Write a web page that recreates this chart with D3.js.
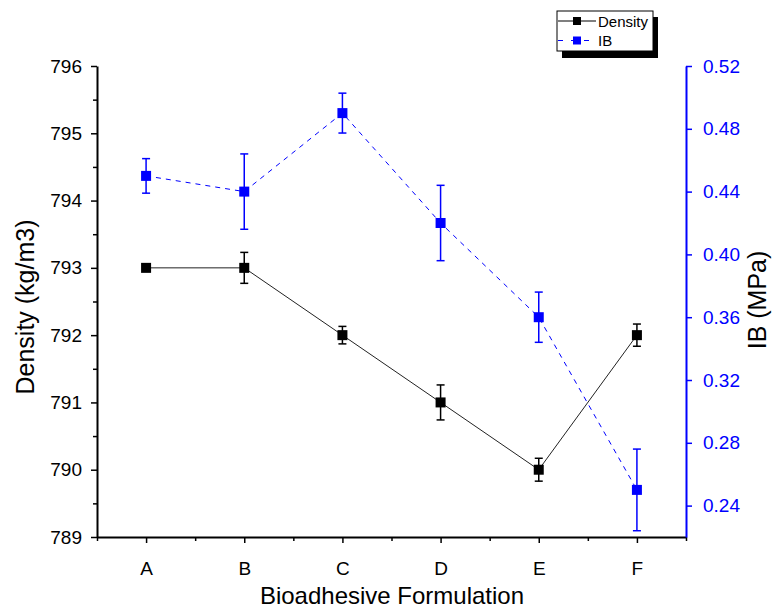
<!DOCTYPE html>
<html><head><meta charset="utf-8">
<script src="https://cdn.jsdelivr.net/npm/d3@7"></script>
<style>body{margin:0;background:#fff;} svg{display:block;font-family:"Liberation Sans",Arial,sans-serif;}</style>
</head><body>
<svg id="c" width="773" height="612"></svg>
<script>
const categories = ["A","B","C","D","E","F"];
const density = [793, 793, 792, 791, 790, 792];
const densityErr = [0.0, 0.23, 0.13, 0.26, 0.17, 0.165];
const ib = [0.45, 0.44, 0.49, 0.42, 0.36, 0.25];
const ibErr = [0.011, 0.024, 0.0127, 0.024, 0.016, 0.026];
const leftTicks = [789, 790, 791, 792, 793, 794, 795, 796];
const rightTicks = [0.24, 0.28, 0.32, 0.36, 0.40, 0.44, 0.48, 0.52];

const svg = d3.select("#c");
const L = 97, R = 686, T = 66, B = 537;
const blue = "#0000ff";
const FONT = "Liberation Sans, Arial, sans-serif";

const x = d3.scaleLinear().domain([0.5, 6.5]).range([L, R]);
const yL = d3.scaleLinear().domain([789, 796]).range([B, T]);
const yR = d3.scaleLinear().domain([0.22, 0.52]).range([B, T]);

// X axis
const xMinor = d3.range(0.5, 7, 0.5).filter(v => v % 1 !== 0);
svg.append("g").attr("transform", `translate(0,${B})`)
  .call(d3.axisBottom(x).tickValues(xMinor).tickSize(4).tickFormat(""))
  .call(g => g.select(".domain").remove())
  .selectAll("line").attr("stroke", "#000").attr("stroke-width", 1.5);
const gx = svg.append("g").attr("transform", `translate(0,${B})`)
  .call(d3.axisBottom(x).tickValues([1,2,3,4,5,6]).tickSize(6).tickSizeOuter(0)
    .tickFormat((d, i) => categories[i]));
gx.select(".domain").attr("stroke", "#000").attr("stroke-width", 2);
gx.selectAll("line").attr("stroke", "#000").attr("stroke-width", 1.5);
gx.selectAll("text").attr("font-size", 19).attr("fill", "#000").attr("y", 0).attr("dy", 0)
  .attr("transform", "translate(0,38)").attr("font-family", FONT);

// Left axis
const lMinor = d3.range(789.5, 796, 1);
svg.append("g").attr("transform", `translate(${L},0)`)
  .call(d3.axisLeft(yL).tickValues(lMinor).tickSize(4).tickFormat(""))
  .call(g => g.select(".domain").remove())
  .selectAll("line").attr("stroke", "#000").attr("stroke-width", 1.5);
const gl = svg.append("g").attr("transform", `translate(${L},0)`)
  .call(d3.axisLeft(yL).tickValues(leftTicks).tickSize(6).tickSizeOuter(0).tickFormat(d3.format("d")));
gl.select(".domain").attr("stroke", "#000").attr("stroke-width", 2);
gl.selectAll("line").attr("stroke", "#000").attr("stroke-width", 1.5);
gl.selectAll("text").attr("font-size", 19).attr("fill", "#000").attr("x", -15)
  .attr("font-family", FONT);

// Right axis
const gr = svg.append("g").attr("transform", `translate(${R},0)`)
  .call(d3.axisRight(yR).tickValues(rightTicks).tickSize(6).tickSizeOuter(0).tickFormat(d3.format(".2f")));
gr.select(".domain").attr("stroke", blue).attr("stroke-width", 2);
gr.selectAll("line").attr("stroke", blue).attr("stroke-width", 1.5);
gr.selectAll("text").attr("font-size", 19).attr("fill", blue).attr("x", 17)
  .attr("font-family", FONT);

// Axis titles
svg.append("text").attr("transform", `translate(34,307) rotate(-90)`)
  .attr("text-anchor", "middle").attr("font-size", 25).text("Density (kg/m3)");
svg.append("text").attr("transform", `translate(766,300) rotate(-90)`)
  .attr("text-anchor", "middle").attr("font-size", 25).text("IB (MPa)");
svg.append("text").attr("x", 392).attr("y", 604)
  .attr("text-anchor", "middle").attr("font-size", 24).text("Bioadhesive Formulation");

const idx = d3.range(categories.length);

// IB series
svg.append("path").datum(idx)
  .attr("d", d3.line().x(i => x(i+1)).y(i => yR(ib[i])))
  .attr("fill", "none").attr("stroke", blue).attr("stroke-width", 1).attr("stroke-dasharray", "5,5");
const eb2 = svg.append("g").attr("stroke", blue).attr("stroke-width", 1.5);
idx.forEach(i => {
  const cx = x(i+1), t = yR(ib[i] + ibErr[i]), b = yR(ib[i] - ibErr[i]);
  eb2.append("line").attr("x1", cx).attr("x2", cx).attr("y1", t).attr("y2", b);
  eb2.append("line").attr("x1", cx-4).attr("x2", cx+4).attr("y1", t).attr("y2", t);
  eb2.append("line").attr("x1", cx-4).attr("x2", cx+4).attr("y1", b).attr("y2", b);
});
svg.append("g").selectAll("rect").data(idx).join("rect")
  .attr("x", i => x(i+1) - 5).attr("y", i => yR(ib[i]) - 5)
  .attr("width", 10).attr("height", 10).attr("fill", blue);

// Density series
svg.append("path").datum(idx)
  .attr("d", d3.line().x(i => x(i+1)).y(i => yL(density[i])))
  .attr("fill", "none").attr("stroke", "#222").attr("stroke-width", 1);
const eb1 = svg.append("g").attr("stroke", "#000").attr("stroke-width", 1.5);
idx.forEach(i => {
  if (densityErr[i] <= 0) return;
  const cx = x(i+1), t = yL(density[i] + densityErr[i]), b = yL(density[i] - densityErr[i]);
  eb1.append("line").attr("x1", cx).attr("x2", cx).attr("y1", t).attr("y2", b);
  eb1.append("line").attr("x1", cx-4).attr("x2", cx+4).attr("y1", t).attr("y2", t);
  eb1.append("line").attr("x1", cx-4).attr("x2", cx+4).attr("y1", b).attr("y2", b);
});
svg.append("g").selectAll("rect").data(idx).join("rect")
  .attr("x", i => x(i+1) - 5).attr("y", i => yL(density[i]) - 5)
  .attr("width", 10).attr("height", 10).attr("fill", "#000");

// Legend
const lg = svg.append("g");
lg.append("rect").attr("x", 562).attr("y", 17).attr("width", 96).attr("height", 41).attr("fill", "#000");
lg.append("rect").attr("x", 557).attr("y", 11).attr("width", 96).attr("height", 40)
  .attr("fill", "#fff").attr("stroke", "#000").attr("stroke-width", 1);
const legendItems = [
  {name: "Density", color: "#000", dash: null},
  {name: "IB", color: blue, dash: "5,8"}
];
legendItems.forEach((d, k) => {
  const yy = 21 + k * 19.5;
  lg.append("line").attr("x1", 558).attr("x2", 596).attr("y1", yy).attr("y2", yy)
    .attr("stroke", d.color).attr("stroke-width", 1.2).attr("stroke-dasharray", d.dash);
  lg.append("rect").attr("x", 573).attr("y", yy - 4).attr("width", 8).attr("height", 8).attr("fill", d.color);
  lg.append("text").attr("x", 598).attr("y", yy + 5.5).attr("font-size", 15).attr("fill", "#000").text(d.name);
});
</script>
</body></html>
